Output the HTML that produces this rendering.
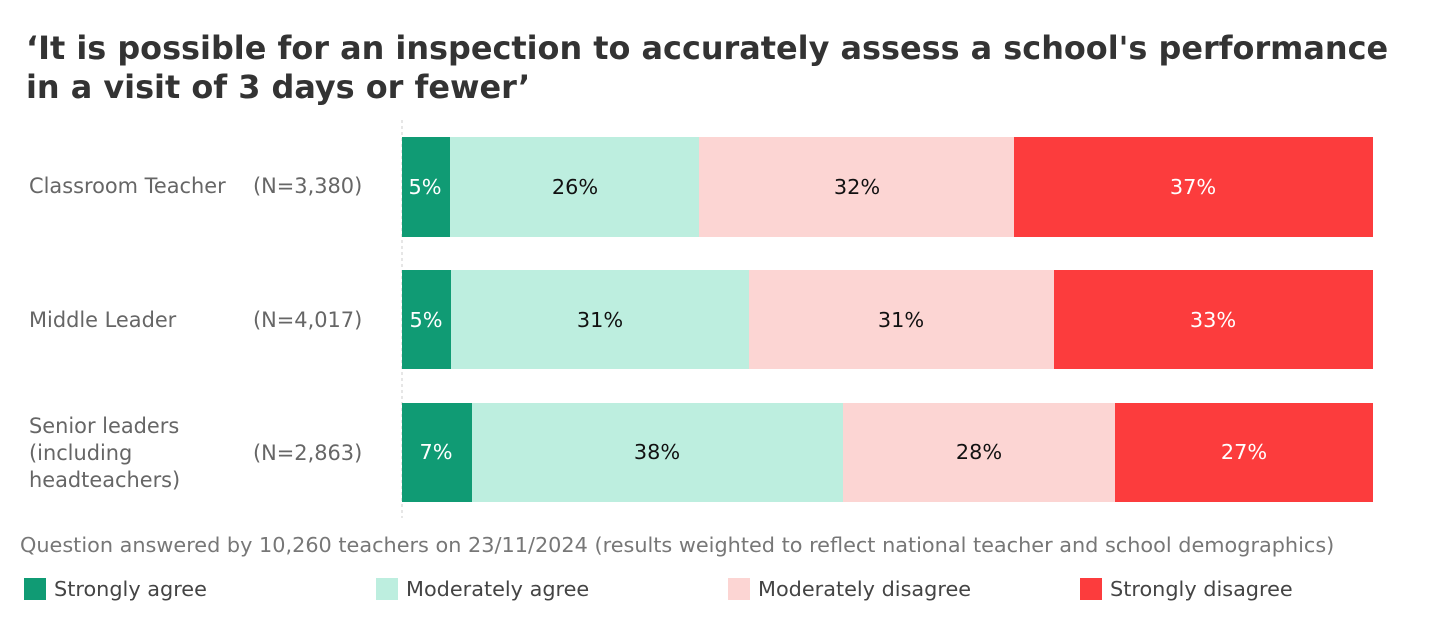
<!DOCTYPE html>
<html><head><meta charset="utf-8"><style>
html,body{margin:0;padding:0;background:#fff;width:1440px;height:640px;overflow:hidden}
svg{display:block;font-family:"DejaVu Sans","Liberation Sans",sans-serif}
</style></head><body>
<svg width="1440" height="640" viewBox="0 0 1440 640">
<text x="26" y="59" font-size="31.9" font-weight="bold" fill="#333">‘It is possible for an inspection to accurately assess a school's performance</text>
<text x="26" y="98" font-size="31.9" font-weight="bold" fill="#333">in a visit of 3 days or fewer’</text>
<line x1="402" y1="120" x2="402" y2="518" stroke="#ccc" stroke-dasharray="3,3"/>
<g font-size="20.9" fill="#666">
<text x="29" y="193">Classroom Teacher</text><text x="253" y="193">(N=3,380)</text>
<text x="29" y="327">Middle Leader</text><text x="253" y="327">(N=4,017)</text>
<text x="29" y="433">Senior leaders</text><text x="29" y="460">(including</text><text x="29" y="487">headteachers)</text>
<text x="253" y="460">(N=2,863)</text>
</g>
<g font-size="20.8" text-anchor="middle">
<rect x="402" y="137" width="48" height="100" fill="#109b74"/>
<rect x="450" y="137" width="249" height="100" fill="#bdeedf"/>
<rect x="699" y="137" width="315" height="100" fill="#fcd5d3"/>
<rect x="1014" y="137" width="359" height="100" fill="#fc3c3d"/>
<text x="425" y="194" fill="#fff">5%</text><text x="575" y="194" fill="#111">26%</text><text x="857" y="194" fill="#111">32%</text><text x="1193" y="194" fill="#fff">37%</text>
<rect x="402" y="270" width="49" height="99" fill="#109b74"/>
<rect x="451" y="270" width="298" height="99" fill="#bdeedf"/>
<rect x="749" y="270" width="305" height="99" fill="#fcd5d3"/>
<rect x="1054" y="270" width="319" height="99" fill="#fc3c3d"/>
<text x="426" y="327" fill="#fff">5%</text><text x="600" y="327" fill="#111">31%</text><text x="901" y="327" fill="#111">31%</text><text x="1213" y="327" fill="#fff">33%</text>
<rect x="402" y="403" width="70" height="99" fill="#109b74"/>
<rect x="472" y="403" width="371" height="99" fill="#bdeedf"/>
<rect x="843" y="403" width="272" height="99" fill="#fcd5d3"/>
<rect x="1115" y="403" width="258" height="99" fill="#fc3c3d"/>
<text x="436" y="459" fill="#fff">7%</text><text x="657" y="459" fill="#111">38%</text><text x="979" y="459" fill="#111">28%</text><text x="1244" y="459" fill="#fff">27%</text>
</g>
<text x="20" y="552" font-size="20.8" fill="#777">Question answered by 10,260 teachers on 23/11/2024 (results weighted to reflect national teacher and school demographics)</text>
<g font-size="20.8" fill="#444">
<rect x="24" y="578" width="22" height="22" fill="#109b74"/><text x="54" y="596">Strongly agree</text>
<rect x="376" y="578" width="22" height="22" fill="#bdeedf"/><text x="406" y="596">Moderately agree</text>
<rect x="728" y="578" width="22" height="22" fill="#fcd5d3"/><text x="758" y="596">Moderately disagree</text>
<rect x="1080" y="578" width="22" height="22" fill="#fc3c3d"/><text x="1110" y="596">Strongly disagree</text>
</g>
</svg>
</body></html>
